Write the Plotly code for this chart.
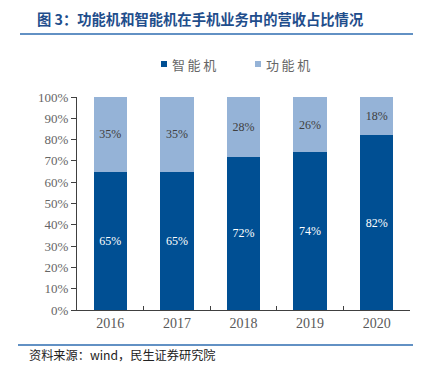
import plotly.graph_objects as go

years = ["2016", "2017", "2018", "2019", "2020"]
smart = [65, 65, 72, 74, 82]
feature = [35, 35, 28, 26, 18]
smart_name = "智能机"
feature_name = "功能机"
title_text = "图 3：功能机和智能机在手机业务中的营收占比情况"
source_text = "资料来源：wind，民生证券研究院"

serif = "Liberation Serif"
cjk = "Noto Sans CJK SC"
dark = "#004F93"
light = "#95B3D7"

OFF = 8  # page body margin
W, H = 421 - OFF, 369 - OFF
L, T = 77 - OFF, 97 - OFF
R = W - (410 - OFF)
B = H - (310 - OFF)
pw, ph = W - L - R, H - T - B

def px(x):
    return (x - OFF - L) / pw

def py(y):
    return (H - B - (y - OFF)) / ph

fig = go.Figure()
fig.add_trace(go.Bar(
    x=years, y=smart, name=smart_name,
    marker=dict(color=dark, line=dict(width=0)),
    text=[f"{v}%" for v in smart], textposition="inside", insidetextanchor="middle",
    textfont=dict(family=serif, size=12, color="white"),
))
fig.add_trace(go.Bar(
    x=years, y=feature, name=feature_name,
    marker=dict(color=light, line=dict(width=0)),
    text=[f"{v}%" for v in feature], textposition="inside", insidetextanchor="middle",
    textfont=dict(family=serif, size=12, color="#404040"),
))

fig.update_layout(
    barmode="stack",
    bargap=0.5,
    width=W, height=H,
    margin=dict(l=L, r=R, t=T, b=B, autoexpand=False),
    plot_bgcolor="white", paper_bgcolor="white",
    showlegend=False,
    uniformtext=dict(minsize=8, mode="show"),
)
fig.update_yaxes(range=[0, 100], dtick=10, ticksuffix="%", showgrid=False,
                 showline=True, linecolor="#404040", linewidth=1,
                 ticks="outside", ticklen=5, tickcolor="#404040",
                 tickfont=dict(family=serif, size=13, color="#666666"), zeroline=False)
fig.update_xaxes(showline=True, linecolor="#404040", linewidth=1,
                 ticks="inside", ticklen=4, tickcolor="#404040", tickson="boundaries",
                 tickfont=dict(family=serif, size=14, color="#595959"))

# manual legend
for (x0, name, col) in [(161, smart_name, dark), (255, feature_name, light)]:
    fig.add_shape(type="rect", xref="paper", yref="paper",
                  x0=px(x0), x1=px(x0 + 6), y0=py(67), y1=py(61),
                  fillcolor=col, line=dict(width=0))
    fig.add_annotation(xref="paper", yref="paper", x=px(x0 + 9), y=py(64.5),
                       xanchor="left", yanchor="middle", showarrow=False,
                       text="\u2009".join(name),
                       font=dict(family=cjk, size=13, color="#666666"))

fig.add_annotation(xref="paper", yref="paper", x=px(35), y=py(18),
                   xanchor="left", yanchor="middle", showarrow=False,
                   text=f"<b>{title_text}</b>",
                   font=dict(family=cjk, size=14.3, color="#1F4E8C"))
fig.add_shape(type="line", xref="paper", yref="paper",
              x0=px(20), x1=px(421), y0=py(34), y1=py(34),
              line=dict(color="#2E6DB0", width=1.5))
fig.add_shape(type="line", xref="paper", yref="paper",
              x0=px(18), x1=px(421), y0=py(345), y1=py(345),
              line=dict(color="#2E6DB0", width=1.5))
fig.add_annotation(xref="paper", yref="paper", x=px(27), y=py(355),
                   xanchor="left", yanchor="middle", showarrow=False,
                   text=source_text,
                   font=dict(family=cjk, size=12.2, color="#222222"))

fig.write_html("out.html")
